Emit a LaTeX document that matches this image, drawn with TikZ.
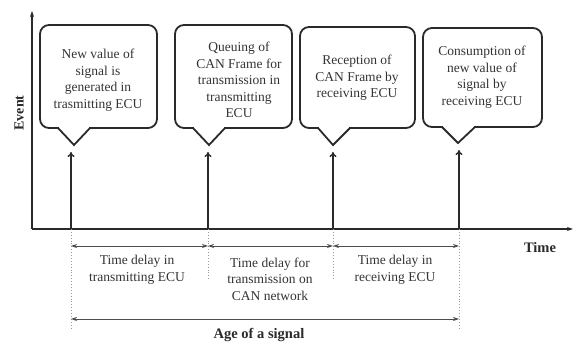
\documentclass[tikz,border=0pt]{standalone}
\usepackage{fontspec}
\setmainfont{Liberation Serif}
\usetikzlibrary{arrows.meta}
\definecolor{ink}{HTML}{2A2A2A}
\definecolor{txt}{HTML}{333333}
\tikzset{
  axis/.style={line width=1.8pt, draw=ink, -{Stealth[length=6pt,width=4pt]}},
  evarrow/.style={line width=1.4pt, draw=ink, -{To[length=5pt,width=7pt]}},
  co/.style={line width=1.8pt, draw=ink, line join=miter},
  dim/.style={line width=0.9pt, draw=gray!60!black, {Stealth[length=6pt,width=4pt]}-{Stealth[length=6pt,width=4pt]}},
  dots/.style={line width=0.9pt, draw=gray!80, dotted},
  lbl/.style={align=center, text=txt, font=\fontsize{13.5}{16.5}\selectfont, inner sep=0pt},
  blbl/.style={text=ink, font=\fontsize{14.5}{17}\selectfont\bfseries, inner sep=0pt}
}
\newcommand{\mycallout}[8]{%
  \draw[co, rounded corners=9pt] (#1,#3) rectangle (#2,#4);
  \fill[white] ({#5+1},{#4-1.6}) rectangle ({#6-1},{#4+1.6});
  \draw[co] (#5,#4) -- (#7,#8) -- (#6,#4);
}
\begin{document}
\begin{tikzpicture}[x=1pt,y=-1pt]
\useasboundingbox (0,0) rectangle (574,344);
% axes
\coordinate (O) at (32,229);
\coordinate (Ytop) at (32,11);
\coordinate (Xend) at (573,229);
\draw[axis] (O) -- (Ytop);
\draw[axis] (O) -- (Xend);
\node[blbl, rotate=90, font=\fontsize{14}{17}\selectfont\bfseries] (event) at (19,113) {Event};
\node[blbl] (time) at (540,248) {Time};
% event points
\coordinate (e1) at (71,229);
\coordinate (e2) at (208,229);
\coordinate (e3) at (333,229);
\coordinate (e4) at (459,229);
\coordinate (a1) at (71,152);
\coordinate (a2) at (208,152);
\coordinate (a3) at (333,152);
\coordinate (a4) at (459,150);
\draw[evarrow] (e1) -- (a1);
\draw[evarrow] (e2) -- (a2);
\draw[evarrow] (e3) -- (a3);
\draw[evarrow] (e4) -- (a4);
% callouts
\mycallout{40}{157}{25}{128}{58}{90}{74}{145}
\mycallout{175}{292}{25}{128}{193}{225}{209}{145}
\mycallout{300}{415}{27}{128}{318}{350}{333}{145}
\mycallout{423}{542}{28}{127}{442}{475}{458}{143}
\node[lbl] (c1) at (98,80) {New value of\\signal is\\generated in\\trasmitting ECU};
\node[lbl] (c2) at (239,80) {Queuing of\\CAN Frame for\\transmission in\\transmitting\\ECU};
\node[lbl] (c3) at (357,78) {Reception of\\CAN Frame by\\receiving ECU};
\node[lbl] (c4) at (482,77) {Consumption of\\new value of\\signal by\\receiving ECU};
% dotted guides
\coordinate (d1) at (71,330);
\coordinate (d2) at (208,279);
\coordinate (d3) at (333,279);
\coordinate (d4) at (459,328);
\draw[dots] (e1) -- (d1);
\draw[dots] (e2) -- (d2);
\draw[dots] (e3) -- (d3);
\draw[dots] (e4) -- (d4);
% dimension arrows
\coordinate (r1) at (71,246);
\coordinate (r2) at (208,246);
\coordinate (r3) at (333,246);
\coordinate (r4) at (459,246);
\draw[dim] (r1) -- (r2);
\draw[dim] (r2) -- (r3);
\draw[dim] (r3) -- (r4);
\coordinate (s1) at (71,319);
\coordinate (s4) at (459,319);
\draw[dim] (s1) -- (s4);
\node[lbl] (t1) at (137,270) {Time delay in\\transmitting ECU};
\node[lbl] (t2) at (270,279) {Time delay for\\transmission on\\CAN network};
\node[lbl] (t3) at (395,270) {Time delay in\\receiving ECU};
\node[blbl] (age) at (259,335) {Age of a signal};
\end{tikzpicture}
\end{document}
